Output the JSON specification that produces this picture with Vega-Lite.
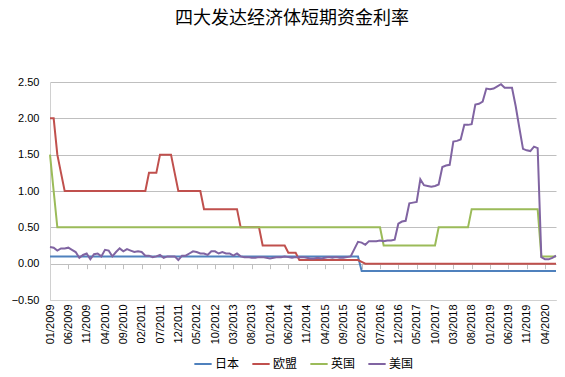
{
  "$schema": "https://vega.github.io/schema/vega-lite/v6.json",
  "width": 506,
  "height": 218,
  "autosize": {"type": "none"},
  "padding": {"left": 50, "top": 82, "right": 9, "bottom": 77},
  "background": "white",
  "title": {"text": "四大发达经济体短期资金利率", "font": "Noto Sans CJK SC", "fontSize": 18, "fontWeight": "normal", "color": "#000000", "anchor": "middle", "frame": "group", "offset": 48, "dx": -11},
  "config": {"view": {"stroke": null}},
  "data": {"values": [
    {"m":"01/2009","日本":0.1,"欧盟":2,"英国":1.5,"美国":0.23},
    {"m":"02/2009","日本":0.1,"欧盟":2,"英国":1,"美国":0.22},
    {"m":"03/2009","日本":0.1,"欧盟":1.5,"英国":0.5,"美国":0.18},
    {"m":"04/2009","日本":0.1,"欧盟":1.25,"英国":0.5,"美国":0.21},
    {"m":"05/2009","日本":0.1,"欧盟":1,"英国":0.5,"美国":0.21},
    {"m":"06/2009","日本":0.1,"欧盟":1,"英国":0.5,"美国":0.22},
    {"m":"07/2009","日本":0.1,"欧盟":1,"英国":0.5,"美国":0.19},
    {"m":"08/2009","日本":0.1,"欧盟":1,"英国":0.5,"美国":0.16},
    {"m":"09/2009","日本":0.1,"欧盟":1,"英国":0.5,"美国":0.08},
    {"m":"10/2009","日本":0.1,"欧盟":1,"英国":0.5,"美国":0.12},
    {"m":"11/2009","日本":0.1,"欧盟":1,"英国":0.5,"美国":0.14},
    {"m":"12/2009","日本":0.1,"欧盟":1,"英国":0.5,"美国":0.06},
    {"m":"01/2010","日本":0.1,"欧盟":1,"英国":0.5,"美国":0.13},
    {"m":"02/2010","日本":0.1,"欧盟":1,"英国":0.5,"美国":0.14},
    {"m":"03/2010","日本":0.1,"欧盟":1,"英国":0.5,"美国":0.10},
    {"m":"04/2010","日本":0.1,"欧盟":1,"英国":0.5,"美国":0.19},
    {"m":"05/2010","日本":0.1,"欧盟":1,"英国":0.5,"美国":0.18},
    {"m":"06/2010","日本":0.1,"欧盟":1,"英国":0.5,"美国":0.10},
    {"m":"07/2010","日本":0.1,"欧盟":1,"英国":0.5,"美国":0.16},
    {"m":"08/2010","日本":0.1,"欧盟":1,"英国":0.5,"美国":0.21},
    {"m":"09/2010","日本":0.1,"欧盟":1,"英国":0.5,"美国":0.17},
    {"m":"10/2010","日本":0.1,"欧盟":1,"英国":0.5,"美国":0.20},
    {"m":"11/2010","日本":0.1,"欧盟":1,"英国":0.5,"美国":0.18},
    {"m":"12/2010","日本":0.1,"欧盟":1,"英国":0.5,"美国":0.16},
    {"m":"01/2011","日本":0.1,"欧盟":1,"英国":0.5,"美国":0.17},
    {"m":"02/2011","日本":0.1,"欧盟":1,"英国":0.5,"美国":0.16},
    {"m":"03/2011","日本":0.1,"欧盟":1,"英国":0.5,"美国":0.11},
    {"m":"04/2011","日本":0.1,"欧盟":1.25,"英国":0.5,"美国":0.11},
    {"m":"05/2011","日本":0.1,"欧盟":1.25,"英国":0.5,"美国":0.09},
    {"m":"06/2011","日本":0.1,"欧盟":1.25,"英国":0.5,"美国":0.10},
    {"m":"07/2011","日本":0.1,"欧盟":1.5,"英国":0.5,"美国":0.12},
    {"m":"08/2011","日本":0.1,"欧盟":1.5,"英国":0.5,"美国":0.08},
    {"m":"09/2011","日本":0.1,"欧盟":1.5,"英国":0.5,"美国":0.10},
    {"m":"10/2011","日本":0.1,"欧盟":1.5,"英国":0.5,"美国":0.10},
    {"m":"11/2011","日本":0.1,"欧盟":1.25,"英国":0.5,"美国":0.10},
    {"m":"12/2011","日本":0.1,"欧盟":1,"英国":0.5,"美国":0.05},
    {"m":"01/2012","日本":0.1,"欧盟":1,"英国":0.5,"美国":0.11},
    {"m":"02/2012","日本":0.1,"欧盟":1,"英国":0.5,"美国":0.11},
    {"m":"03/2012","日本":0.1,"欧盟":1,"英国":0.5,"美国":0.14},
    {"m":"04/2012","日本":0.1,"欧盟":1,"英国":0.5,"美国":0.17},
    {"m":"05/2012","日本":0.1,"欧盟":1,"英国":0.5,"美国":0.16},
    {"m":"06/2012","日本":0.1,"欧盟":1,"英国":0.5,"美国":0.14},
    {"m":"07/2012","日本":0.1,"欧盟":0.75,"英国":0.5,"美国":0.14},
    {"m":"08/2012","日本":0.1,"欧盟":0.75,"英国":0.5,"美国":0.12},
    {"m":"09/2012","日本":0.1,"欧盟":0.75,"英国":0.5,"美国":0.17},
    {"m":"10/2012","日本":0.1,"欧盟":0.75,"英国":0.5,"美国":0.17},
    {"m":"11/2012","日本":0.1,"欧盟":0.75,"英国":0.5,"美国":0.14},
    {"m":"12/2012","日本":0.1,"欧盟":0.75,"英国":0.5,"美国":0.16},
    {"m":"01/2013","日本":0.1,"欧盟":0.75,"英国":0.5,"美国":0.14},
    {"m":"02/2013","日本":0.1,"欧盟":0.75,"英国":0.5,"美国":0.14},
    {"m":"03/2013","日本":0.1,"欧盟":0.75,"英国":0.5,"美国":0.11},
    {"m":"04/2013","日本":0.1,"欧盟":0.75,"英国":0.5,"美国":0.14},
    {"m":"05/2013","日本":0.1,"欧盟":0.5,"英国":0.5,"美国":0.10},
    {"m":"06/2013","日本":0.1,"欧盟":0.5,"英国":0.5,"美国":0.09},
    {"m":"07/2013","日本":0.1,"欧盟":0.5,"英国":0.5,"美国":0.09},
    {"m":"08/2013","日本":0.1,"欧盟":0.5,"英国":0.5,"美国":0.08},
    {"m":"09/2013","日本":0.1,"欧盟":0.5,"英国":0.5,"美国":0.08},
    {"m":"10/2013","日本":0.1,"欧盟":0.5,"英国":0.5,"美国":0.09},
    {"m":"11/2013","日本":0.1,"欧盟":0.25,"英国":0.5,"美国":0.09},
    {"m":"12/2013","日本":0.1,"欧盟":0.25,"英国":0.5,"美国":0.08},
    {"m":"01/2014","日本":0.1,"欧盟":0.25,"英国":0.5,"美国":0.07},
    {"m":"02/2014","日本":0.1,"欧盟":0.25,"英国":0.5,"美国":0.08},
    {"m":"03/2014","日本":0.1,"欧盟":0.25,"英国":0.5,"美国":0.09},
    {"m":"04/2014","日本":0.1,"欧盟":0.25,"英国":0.5,"美国":0.09},
    {"m":"05/2014","日本":0.1,"欧盟":0.25,"英国":0.5,"美国":0.10},
    {"m":"06/2014","日本":0.1,"欧盟":0.15,"英国":0.5,"美国":0.09},
    {"m":"07/2014","日本":0.1,"欧盟":0.15,"英国":0.5,"美国":0.08},
    {"m":"08/2014","日本":0.1,"欧盟":0.15,"英国":0.5,"美国":0.09},
    {"m":"09/2014","日本":0.1,"欧盟":0.05,"英国":0.5,"美国":0.09},
    {"m":"10/2014","日本":0.1,"欧盟":0.05,"英国":0.5,"美国":0.09},
    {"m":"11/2014","日本":0.1,"欧盟":0.05,"英国":0.5,"美国":0.08},
    {"m":"12/2014","日本":0.1,"欧盟":0.05,"英国":0.5,"美国":0.07},
    {"m":"01/2015","日本":0.1,"欧盟":0.05,"英国":0.5,"美国":0.07},
    {"m":"02/2015","日本":0.1,"欧盟":0.05,"英国":0.5,"美国":0.08},
    {"m":"03/2015","日本":0.1,"欧盟":0.05,"英国":0.5,"美国":0.07},
    {"m":"04/2015","日本":0.1,"欧盟":0.05,"英国":0.5,"美国":0.08},
    {"m":"05/2015","日本":0.1,"欧盟":0.05,"英国":0.5,"美国":0.09},
    {"m":"06/2015","日本":0.1,"欧盟":0.05,"英国":0.5,"美国":0.08},
    {"m":"07/2015","日本":0.1,"欧盟":0.05,"英国":0.5,"美国":0.09},
    {"m":"08/2015","日本":0.1,"欧盟":0.05,"英国":0.5,"美国":0.08},
    {"m":"09/2015","日本":0.1,"欧盟":0.05,"英国":0.5,"美国":0.08},
    {"m":"10/2015","日本":0.1,"欧盟":0.05,"英国":0.5,"美国":0.09},
    {"m":"11/2015","日本":0.1,"欧盟":0.05,"英国":0.5,"美国":0.10},
    {"m":"12/2015","日本":0.1,"欧盟":0.05,"英国":0.5,"美国":0.20},
    {"m":"01/2016","日本":0.1,"欧盟":0.05,"英国":0.5,"美国":0.30},
    {"m":"02/2016","日本":-0.1,"欧盟":0.025,"英国":0.5,"美国":0.29},
    {"m":"03/2016","日本":-0.1,"欧盟":0,"英国":0.5,"美国":0.26},
    {"m":"04/2016","日本":-0.1,"欧盟":0,"英国":0.5,"美国":0.31},
    {"m":"05/2016","日本":-0.1,"欧盟":0,"英国":0.5,"美国":0.31},
    {"m":"06/2016","日本":-0.1,"欧盟":0,"英国":0.5,"美国":0.31},
    {"m":"07/2016","日本":-0.1,"欧盟":0,"英国":0.5,"美国":0.32},
    {"m":"08/2016","日本":-0.1,"欧盟":0,"英国":0.25,"美国":0.31},
    {"m":"09/2016","日本":-0.1,"欧盟":0,"英国":0.25,"美国":0.32},
    {"m":"10/2016","日本":-0.1,"欧盟":0,"英国":0.25,"美国":0.32},
    {"m":"11/2016","日本":-0.1,"欧盟":0,"英国":0.25,"美国":0.33},
    {"m":"12/2016","日本":-0.1,"欧盟":0,"英国":0.25,"美国":0.55},
    {"m":"01/2017","日本":-0.1,"欧盟":0,"英国":0.25,"美国":0.58},
    {"m":"02/2017","日本":-0.1,"欧盟":0,"英国":0.25,"美国":0.59},
    {"m":"03/2017","日本":-0.1,"欧盟":0,"英国":0.25,"美国":0.83},
    {"m":"04/2017","日本":-0.1,"欧盟":0,"英国":0.25,"美国":0.84},
    {"m":"05/2017","日本":-0.1,"欧盟":0,"英国":0.25,"美国":0.85},
    {"m":"06/2017","日本":-0.1,"欧盟":0,"英国":0.25,"美国":1.16},
    {"m":"07/2017","日本":-0.1,"欧盟":0,"英国":0.25,"美国":1.08},
    {"m":"08/2017","日本":-0.1,"欧盟":0,"英国":0.25,"美国":1.07},
    {"m":"09/2017","日本":-0.1,"欧盟":0,"英国":0.25,"美国":1.06},
    {"m":"10/2017","日本":-0.1,"欧盟":0,"英国":0.25,"美国":1.07},
    {"m":"11/2017","日本":-0.1,"欧盟":0,"英国":0.5,"美国":1.09},
    {"m":"12/2017","日本":-0.1,"欧盟":0,"英国":0.5,"美国":1.33},
    {"m":"01/2018","日本":-0.1,"欧盟":0,"英国":0.5,"美国":1.35},
    {"m":"02/2018","日本":-0.1,"欧盟":0,"英国":0.5,"美国":1.36},
    {"m":"03/2018","日本":-0.1,"欧盟":0,"英国":0.5,"美国":1.68},
    {"m":"04/2018","日本":-0.1,"欧盟":0,"英国":0.5,"美国":1.69},
    {"m":"05/2018","日本":-0.1,"欧盟":0,"英国":0.5,"美国":1.71},
    {"m":"06/2018","日本":-0.1,"欧盟":0,"英国":0.5,"美国":1.91},
    {"m":"07/2018","日本":-0.1,"欧盟":0,"英国":0.5,"美国":1.91},
    {"m":"08/2018","日本":-0.1,"欧盟":0,"英国":0.75,"美国":1.92},
    {"m":"09/2018","日本":-0.1,"欧盟":0,"英国":0.75,"美国":2.19},
    {"m":"10/2018","日本":-0.1,"欧盟":0,"英国":0.75,"美国":2.20},
    {"m":"11/2018","日本":-0.1,"欧盟":0,"英国":0.75,"美国":2.23},
    {"m":"12/2018","日本":-0.1,"欧盟":0,"英国":0.75,"美国":2.41},
    {"m":"01/2019","日本":-0.1,"欧盟":0,"英国":0.75,"美国":2.40},
    {"m":"02/2019","日本":-0.1,"欧盟":0,"英国":0.75,"美国":2.41},
    {"m":"03/2019","日本":-0.1,"欧盟":0,"英国":0.75,"美国":2.44},
    {"m":"04/2019","日本":-0.1,"欧盟":0,"英国":0.75,"美国":2.47},
    {"m":"05/2019","日本":-0.1,"欧盟":0,"英国":0.75,"美国":2.42},
    {"m":"06/2019","日本":-0.1,"欧盟":0,"英国":0.75,"美国":2.42},
    {"m":"07/2019","日本":-0.1,"欧盟":0,"英国":0.75,"美国":2.42},
    {"m":"08/2019","日本":-0.1,"欧盟":0,"英国":0.75,"美国":2.17},
    {"m":"09/2019","日本":-0.1,"欧盟":0,"英国":0.75,"美国":1.87},
    {"m":"10/2019","日本":-0.1,"欧盟":0,"英国":0.75,"美国":1.58},
    {"m":"11/2019","日本":-0.1,"欧盟":0,"英国":0.75,"美国":1.56},
    {"m":"12/2019","日本":-0.1,"欧盟":0,"英国":0.75,"美国":1.55},
    {"m":"01/2020","日本":-0.1,"欧盟":0,"英国":0.75,"美国":1.61},
    {"m":"02/2020","日本":-0.1,"欧盟":0,"英国":0.75,"美国":1.59},
    {"m":"03/2020","日本":-0.1,"欧盟":0,"英国":0.1,"美国":0.09},
    {"m":"04/2020","日本":-0.1,"欧盟":0,"英国":0.1,"美国":0.06},
    {"m":"05/2020","日本":-0.1,"欧盟":0,"英国":0.1,"美国":0.06},
    {"m":"06/2020","日本":-0.1,"欧盟":0,"英国":0.1,"美国":0.08},
    {"m":"07/2020","日本":-0.1,"欧盟":0,"英国":0.1,"美国":0.11}
  ]},
  "transform": [{"fold": ["日本", "欧盟", "英国", "美国"], "as": ["series", "value"]}],
  "resolve": {"axis": {"x": "independent"}},
  "layer": [
    {
      "mark": {"type": "line", "strokeWidth": 2, "strokeOpacity": 0},
      "encoding": {
        "x": {"field": "m", "type": "ordinal", "sort": null, "scale": {"type": "point", "padding": 0},
          "axis": {"orient": "bottom", "values": ["01/2009","06/2009","11/2009","04/2010","09/2010","02/2011","07/2011","12/2011","05/2012","10/2012","03/2013","08/2013","01/2014","06/2014","11/2014","04/2015","09/2015","02/2016","07/2016","12/2016","05/2017","10/2017","03/2018","08/2018","01/2019","06/2019","11/2019","04/2020"],
            "labels": false, "ticks": true, "tickSize": 5, "tickColor": "#bfbfbf", "domain": false, "grid": false, "title": null, "offset": -36.33}},
        "y": {"field": "value", "type": "quantitative", "scale": {"domain": [-0.5, 2.5], "nice": false, "zero": false},
          "axis": {"values": [-0.5, 0, 0.5, 1, 1.5, 2, 2.5], "format": ".2f", "title": null, "ticks": false, "labelOverlap": false, "labelBound": false, "labelPadding": 11, "labelFont": "Liberation Sans", "labelFontSize": 11, "labelColor": "#000000", "gridColor": "#bfbfbf", "domainColor": "#d0d0d0"}},
        "detail": {"field": "series", "type": "nominal"}
      }
    },
    {
      "mark": {"type": "line", "strokeWidth": 2},
      "encoding": {
        "x": {"field": "m", "type": "ordinal", "sort": null, "scale": {"type": "point", "padding": 0},
          "axis": {"orient": "bottom", "values": ["01/2009","06/2009","11/2009","04/2010","09/2010","02/2011","07/2011","12/2011","05/2012","10/2012","03/2013","08/2013","01/2014","06/2014","11/2014","04/2015","09/2015","02/2016","07/2016","12/2016","05/2017","10/2017","03/2018","08/2018","01/2019","06/2019","11/2019","04/2020"],
            "labelAngle": -90, "ticks": false, "labelPadding": 4, "labelOverlap": false, "domainColor": "#d0d0d0", "labelFont": "Liberation Sans", "labelFontSize": 11, "labelColor": "#000000", "grid": false, "title": null}},
        "y": {"field": "value", "type": "quantitative", "scale": {"domain": [-0.5, 2.5], "nice": false, "zero": false},
          "axis": {"values": [-0.5, 0, 0.5, 1, 1.5, 2, 2.5], "format": ".2f", "title": null, "ticks": false, "labelOverlap": false, "labelBound": false, "labelPadding": 11, "labelFont": "Liberation Sans", "labelFontSize": 11, "labelColor": "#000000", "gridColor": "#bfbfbf", "domainColor": "#d0d0d0"}},
        "color": {"field": "series", "type": "nominal",
          "scale": {"domain": ["日本", "欧盟", "英国", "美国"], "range": ["#4f81bd", "#c0504d", "#9bbb59", "#8064a2"]},
          "legend": {"orient": "none", "legendX": 143, "legendY": 272, "direction": "horizontal", "title": null, "symbolType": "stroke", "symbolStrokeWidth": 2, "symbolSize": 300, "labelFont": "Noto Sans CJK SC", "labelFontSize": 12, "labelColor": "#000000", "labelOffset": 2, "columnPadding": 8}}
      }
    }
  ]
}
